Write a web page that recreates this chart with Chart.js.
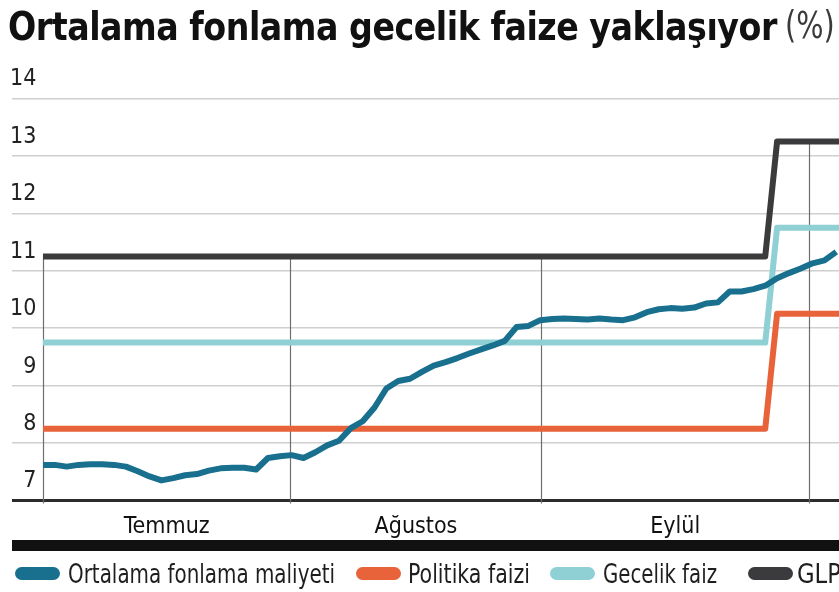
<!DOCTYPE html>
<html lang="tr">
<head>
<meta charset="utf-8">
<script src="https://cdn.jsdelivr.net/npm/chart.js@4.4.1/dist/chart.umd.min.js"></script>
<style>
  html, body { margin: 0; padding: 0; background: #fff; }
  #wrap { position: relative; width: 839px; height: 592px; overflow: hidden; }
  #chart { position: absolute; left: 0; top: 0; }
  .title { position: absolute; top: 4px; white-space: nowrap; line-height: 48px; transform-origin: 0 0; }
  #t1 { left: 8px; font: bold 39px 'DejaVu Sans Condensed', 'DejaVu Sans', sans-serif; color: #111; letter-spacing: -0.5px; }
  #t2 { left: 785px; font: 37px 'DejaVu Sans Condensed', 'DejaVu Sans', sans-serif; color: #3a3a3a; }
</style>
</head>
<body>
<div id="wrap">
  <canvas id="chart" width="839" height="592"></canvas>
  <div class="title" id="t1">Ortalama fonlama gecelik faize yaklaşıyor</div>
  <div class="title" id="t2">(%)</div>
</div>
<script>
// işlem günü ekseni: 0 = Temmuz başı
const ORTALAMA = [
  7.62, 7.62, 7.59, 7.62, 7.63, 7.63, 7.62, 7.59, 7.51, 7.42,
  7.35, 7.39, 7.44, 7.46, 7.52, 7.56, 7.57, 7.57, 7.54, 7.74,
  7.77, 7.79, 7.74, 7.84, 7.96, 8.04, 8.26, 8.38, 8.62, 8.95,
  9.08, 9.12, 9.24, 9.35, 9.41, 9.48, 9.56, 9.63, 9.70, 9.78,
  10.02, 10.04, 10.14, 10.16, 10.17, 10.16, 10.15, 10.17, 10.15, 10.14,
  10.19, 10.28, 10.33, 10.35, 10.34, 10.36, 10.43, 10.45, 10.64, 10.64,
  10.68, 10.74, 10.87, 10.96, 11.04, 11.13, 11.18, 11.33,
];

// faiz koridoru: köşe noktaları
const STEP_DAYS = [0, 61, 62, 67.3];
const POLITIKA = [8.25, 8.25, 10.25, 10.25];
const GECELIK = [9.75, 9.75, 11.75, 11.75];
const GLP = [11.25, 11.25, 13.25, 13.25];

const MONTHS = ['Temmuz', 'Ağustos', 'Eylül'];
const MONTH_STARTS = [0, 20.9, 42.1, 64.7];

const X_MIN = -2.62;
const X_MAX = 67.23;
const FONT = "'DejaVu Sans Condensed', 'DejaVu Sans', sans-serif";

const LEGEND_PILL_X = [15, 356, 550, 748];
const LEGEND_TEXT_X = [68, 408, 603, 797];
const LEGEND_TEXT_W = [267, 122, 114, 44];

const toPoints = (xs, ys) => ys.map((y, i) => ({ x: xs[i], y }));

function glpAt(d) {
  for (let i = 1; i < STEP_DAYS.length; i++) {
    if (d <= STEP_DAYS[i]) {
      const t = (d - STEP_DAYS[i - 1]) / (STEP_DAYS[i] - STEP_DAYS[i - 1]);
      return GLP[i - 1] + t * (GLP[i] - GLP[i - 1]);
    }
  }
  return GLP[GLP.length - 1];
}

// ay ayırıcı dikey çizgiler (GLP çizgisine kadar)
const monthLines = {
  id: 'monthLines',
  beforeDatasetsDraw(chart) {
    const { ctx, scales: { x, y } } = chart;
    ctx.save();
    ctx.strokeStyle = '#6e6e6e';
    ctx.lineWidth = 1.2;
    MONTH_STARTS.forEach((d) => {
      const px = Math.round(x.getPixelForValue(d)) + 0.5;
      ctx.beginPath();
      ctx.moveTo(px, y.getPixelForValue(7) + 3);
      ctx.lineTo(px, y.getPixelForValue(glpAt(d)));
      ctx.stroke();
    });
    ctx.restore();
  },
};

// alt siyah şerit + lejant
const footer = {
  id: 'footer',
  afterDraw(chart) {
    const { ctx } = chart;
    ctx.save();
    ctx.fillStyle = '#111';
    ctx.fillRect(12, 540, 827, 11);
    ctx.font = `26px ${FONT}`;
    ctx.textBaseline = 'alphabetic';
    chart.data.datasets.forEach((ds, i) => {
      ctx.fillStyle = ds.borderColor;
      ctx.beginPath();
      ctx.roundRect(LEGEND_PILL_X[i], 567, 45, 13, 6.5);
      ctx.fill();
      ctx.fillStyle = '#1e1e1e';
      ctx.fillText(ds.label, LEGEND_TEXT_X[i], 583, LEGEND_TEXT_W[i]);
    });
    ctx.restore();
  },
};

const line = (label, data, color) => ({
  label,
  data,
  borderColor: color,
  backgroundColor: color,
  borderWidth: 6,
  pointRadius: 0,
  tension: 0,
  borderJoinStyle: 'round',
});

new Chart(document.getElementById('chart'), {
  type: 'line',
  data: {
    datasets: [
      line('Ortalama fonlama maliyeti', ORTALAMA.map((v, i) => ({ x: i, y: v })), '#18708e'),
      line('Politika faizi', toPoints(STEP_DAYS, POLITIKA), '#e8623a'),
      line('Gecelik faiz', toPoints(STEP_DAYS, GECELIK), '#8fd0d4'),
      line('GLP', toPoints(STEP_DAYS, GLP), '#3b3b3d'),
    ],
  },
  options: {
    responsive: false,
    animation: false,
    layout: { padding: { top: 98.5, left: 0, right: 0, bottom: 0 } },
    plugins: { legend: { display: false }, tooltip: { enabled: false } },
    scales: {
      x: {
        type: 'linear',
        min: X_MIN,
        max: X_MAX,
        grid: { display: false },
        border: { display: false },
        afterFit: (s) => { s.height = 91.5; },
        afterBuildTicks: (s) => {
          s.ticks = MONTHS.map((m, i) => ({ value: (MONTH_STARTS[i] + MONTH_STARTS[i + 1]) / 2 }));
        },
        ticks: {
          autoSkip: false,
          maxRotation: 0,
          padding: 5,
          color: '#111',
          font: { family: FONT, size: 23 },
          callback: (v, i) => MONTHS[i],
        },
      },
      y: {
        min: 7,
        max: 14,
        afterFit: (s) => { s.width = 12; },
        border: { display: false },
        grid: {
          drawTicks: false,
          color: (c) => (c.tick && c.tick.value === 7 ? '#2b2b2b' : '#cfcfcf'),
          lineWidth: (c) => (c.tick && c.tick.value === 7 ? 3 : 1.5),
        },
        ticks: {
          stepSize: 1,
          mirror: true,
          crossAlign: 'far',
          padding: -2,
          labelOffset: -19,
          color: '#222',
          font: { family: FONT, size: 23 },
        },
      },
    },
  },
  plugins: [monthLines, footer],
});

function fitWidth(id, w) {
  const el = document.getElementById(id);
  el.style.transform = `scaleX(${w / el.offsetWidth})`;
}
fitWidth('t1', 769);
fitWidth('t2', 50);
</script>
</body>
</html>
